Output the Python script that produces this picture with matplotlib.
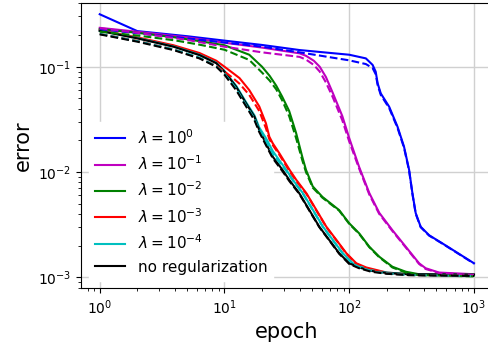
import matplotlib
matplotlib.use('Agg')
import matplotlib.pyplot as plt

# values (epoch, error); solid = train, dashed = test
blue_epoch = [1, 2, 5, 10, 20, 40, 100, 136, 154, 163, 169, 179, 209, 244, 275, 302, 321, 341, 374, 437, 558, 713, 1000]
blue_solid = [0.315, 0.218, 0.195, 0.177, 0.161, 0.144, 0.130, 0.120, 0.104, 0.0897, 0.0695, 0.0558, 0.0417, 0.0269,
              0.0174, 0.0105, 0.0063, 0.00408, 0.00302, 0.00251, 0.0021, 0.00175, 0.00136]
blue_dash = [0.228, 0.208, 0.186, 0.170, 0.155, 0.137, 0.115, 0.106, 0.097, 0.085, 0.067, 0.054, 0.0405, 0.0262,
             0.0170, 0.0103, 0.0062, 0.00402, 0.00299, 0.00249, 0.00209, 0.00174, 0.00135]

mag_epoch = [1, 2, 5, 10, 20, 40, 45, 52, 58, 65, 74, 88, 100, 120, 145, 174, 222, 284, 363, 410, 525, 1000]
mag_solid = [0.234, 0.215, 0.19, 0.169, 0.152, 0.134, 0.127, 0.114, 0.100, 0.080, 0.056, 0.034, 0.021, 0.0112,
             0.0063, 0.0041, 0.0028, 0.00195, 0.00136, 0.00122, 0.00111, 0.00107]
mag_dash = [0.232, 0.21, 0.18, 0.155, 0.137, 0.124, 0.117, 0.104, 0.090, 0.071, 0.051, 0.031, 0.0195, 0.0108,
            0.0061, 0.0040, 0.00275, 0.00192, 0.00134, 0.0012, 0.0011, 0.00105]

green_epoch = [1, 2, 4, 6.3, 10, 15.8, 20, 23, 26, 29, 33, 37.5, 42, 45, 51, 61, 83, 100, 120, 145, 174, 222, 284, 363, 1000]
green_solid = [0.228, 0.21, 0.19, 0.175, 0.16, 0.13, 0.1, 0.082, 0.066, 0.052, 0.038, 0.0235, 0.014, 0.0105, 0.0073,
               0.0058, 0.00435, 0.00326, 0.00262, 0.00195, 0.00157, 0.00126, 0.00113, 0.00107, 0.00104]
green_dash = [0.215, 0.198, 0.178, 0.162, 0.145, 0.116, 0.088, 0.074, 0.061, 0.048, 0.034, 0.021, 0.013, 0.0100,
              0.0071, 0.0057, 0.0043, 0.00322, 0.00259, 0.00193, 0.00155, 0.00124, 0.00111, 0.00105, 0.00102]

red_epoch = [1, 2, 3.9, 6.3, 8.6, 10, 11.7, 13.2, 15.8, 19, 21.5, 22.9, 24.4, 27.5, 33.4, 37.7, 45.4, 54.6, 65.5,
             79, 95, 114, 137, 200, 300, 1000]
red_solid = [0.223, 0.19, 0.16, 0.135, 0.114, 0.1, 0.087, 0.078, 0.06, 0.042, 0.029, 0.0216, 0.0187, 0.0151, 0.0104,
             0.0084, 0.00628, 0.00435, 0.00303, 0.00226, 0.00169, 0.00136, 0.00124, 0.00111, 0.00107, 0.00106]
red_dash = [0.205, 0.176, 0.146, 0.121, 0.102, 0.09, 0.078, 0.069, 0.054, 0.038, 0.026, 0.0205, 0.018, 0.0146, 0.0101,
            0.0082, 0.0062, 0.0043, 0.003, 0.00224, 0.00167, 0.00134, 0.00122, 0.00109, 0.00105, 0.00103]

cyan_epoch = [1, 2, 3.9, 6.3, 8.6, 10, 12.4, 14.9, 17.4, 19, 21.5, 24.4, 31.4, 35.4, 42.6, 51.3, 61.6, 74, 89, 107,
              128, 160, 200, 300, 1000]
cyan_solid = [0.22, 0.187, 0.156, 0.13, 0.109, 0.091, 0.066, 0.046, 0.0345, 0.0265, 0.021, 0.0158, 0.0104, 0.0084,
              0.00628, 0.00435, 0.00303, 0.00226, 0.00169, 0.00136, 0.00124, 0.00115, 0.00111, 0.00107, 0.00106]
cyan_dash = [0.205, 0.175, 0.146, 0.122, 0.101, 0.086, 0.062, 0.043, 0.032, 0.025, 0.0195, 0.0148, 0.0102, 0.0083,
             0.0062, 0.0043, 0.003, 0.00224, 0.00167, 0.00134, 0.00122, 0.00113, 0.00109, 0.00105, 0.00103]

black_epoch = [1, 2, 3.9, 6.3, 8.6, 10, 12.4, 14.9, 17.4, 19, 21.5, 24.4, 29.3, 33.1, 39.8, 47.9, 57.5, 69.2, 83.2,
               100, 120, 150, 200, 300, 1000]
black_solid = [0.219, 0.186, 0.155, 0.129, 0.108, 0.09, 0.0646, 0.0449, 0.0335, 0.025, 0.0187, 0.01397, 0.0104,
               0.0084, 0.00628, 0.00435, 0.00303, 0.00226, 0.00169, 0.00136, 0.00124, 0.00115, 0.0011, 0.00107, 0.00106]
black_dash = [0.203, 0.173, 0.144, 0.12, 0.1, 0.084, 0.06, 0.042, 0.031, 0.024, 0.018, 0.0135, 0.0101, 0.0082,
              0.0062, 0.0043, 0.003, 0.00224, 0.00167, 0.00134, 0.00122, 0.00113, 0.00108, 0.00105, 0.00103]

labels = [r'$\lambda = 10^{0}$', r'$\lambda = 10^{-1}$', r'$\lambda = 10^{-2}$',
          r'$\lambda = 10^{-3}$', r'$\lambda = 10^{-4}$', 'no regularization']
colors = ['b', 'm', 'g', 'r', 'c', 'k']

series = [(blue_epoch, blue_solid, blue_dash), (mag_epoch, mag_solid, mag_dash),
          (green_epoch, green_solid, green_dash), (red_epoch, red_solid, red_dash),
          (cyan_epoch, cyan_solid, cyan_dash), (black_epoch, black_solid, black_dash)]

fig = plt.figure(figsize=(4.88, 3.49), dpi=100)
ax = fig.add_axes([0.166, 0.174, 0.8436, 0.8184])

for (ep, tr, te), c, lab in zip(series, colors, labels):
    ax.plot(ep, tr, c, linestyle='solid', linewidth=1.5, label=lab)
for (ep, tr, te), c in zip(series, colors):
    ax.plot(ep, te, c, linestyle='dashed', linewidth=1.5)

ax.set_xscale('log')
ax.set_yscale('log')
ax.set_xlim(10**-0.15, 10**3.15)
ax.set_ylim(7.87e-4, 0.406)
ax.grid(True, which='major', color='#d0d0d0', linewidth=1.0)
ax.tick_params(labelsize=10)
ax.set_xlabel('epoch', fontsize=15)
ax.set_ylabel('error', fontsize=15)
leg = ax.legend(loc='lower left', fontsize=11, framealpha=1, edgecolor='white')
leg.set_zorder(1.8)  # box above the grid, curves stay on top

plt.savefig('out.png', dpi=100)
